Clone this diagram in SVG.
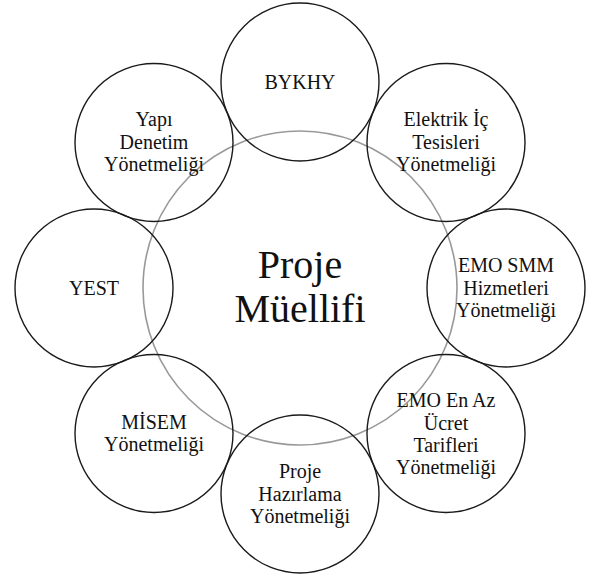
<svg xmlns="http://www.w3.org/2000/svg" width="589" height="579" viewBox="0 0 589 579">
<style>
.c{fill:none;stroke:#1a1a1a;stroke-width:1.4}
.m{fill:none;stroke:#999;stroke-width:1.6}
text{font-family:"Liberation Serif","Times New Roman",serif;fill:#111;text-anchor:middle}
.s{font-size:20px}
.b{font-size:40px}
</style>
<rect width="589" height="579" fill="#fff"/>
<g id="connectors"/>
<g id="center">
<circle class="m" cx="300" cy="288" r="157"/>
<text class="b" x="300" y="278">Proje</text>
<text class="b" x="300" y="322">Müellifi</text>
</g>
<g id="bykhy">
<circle class="c" cx="300" cy="82" r="79"/>
<text class="s" x="300" y="89">BYKHY</text>
</g>
<g id="elektrik">
<circle class="c" cx="446" cy="142.5" r="79"/>
<text class="s" x="446" y="126">Elektrik İç</text>
<text class="s" x="446" y="148.5">Tesisleri</text>
<text class="s" x="446" y="171">Yönetmeliği</text>
</g>
<g id="emosmm">
<circle class="c" cx="506" cy="288" r="79"/>
<text class="s" x="506" y="272">EMO SMM</text>
<text class="s" x="506" y="294.5">Hizmetleri</text>
<text class="s" x="506" y="317">Yönetmeliği</text>
</g>
<g id="emoenaz">
<circle class="c" cx="446" cy="433.5" r="79"/>
<text class="s" x="446" y="407">EMO En Az</text>
<text class="s" x="446" y="429.5">Ücret</text>
<text class="s" x="446" y="452">Tarifleri</text>
<text class="s" x="446" y="474">Yönetmeliği</text>
</g>
<g id="hazirlama">
<circle class="c" cx="300" cy="494" r="79"/>
<text class="s" x="300" y="478">Proje</text>
<text class="s" x="300" y="500.5">Hazırlama</text>
<text class="s" x="300" y="523">Yönetmeliği</text>
</g>
<g id="misem">
<circle class="c" cx="154" cy="433.5" r="79"/>
<text class="s" x="154" y="428.5">MİSEM</text>
<text class="s" x="154" y="451">Yönetmeliği</text>
</g>
<g id="yest">
<circle class="c" cx="94" cy="288" r="79"/>
<text class="s" x="94" y="295">YEST</text>
</g>
<g id="yapi">
<circle class="c" cx="154" cy="142.5" r="79"/>
<text class="s" x="154" y="126">Yapı</text>
<text class="s" x="154" y="148.5">Denetim</text>
<text class="s" x="154" y="171">Yönetmeliği</text>
</g>
</svg>
